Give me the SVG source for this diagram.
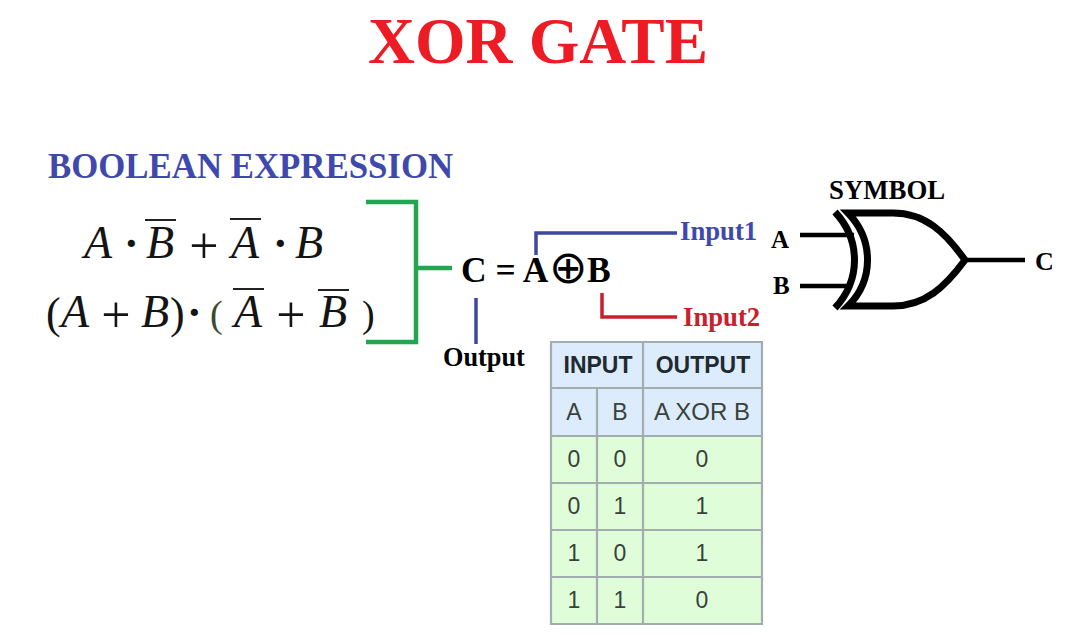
<svg xmlns="http://www.w3.org/2000/svg" width="1071" height="634" viewBox="0 0 1071 634">
<style>
.s{font-family:"Liberation Serif","Times New Roman",serif;font-weight:700}
.m{font-family:"Liberation Serif","Times New Roman",serif;font-style:italic;font-size:46px;fill:#141414}
.r{font-family:"Liberation Serif","Times New Roman",serif;font-size:44px;fill:#141414}
.d{font-family:"Liberation Serif","Times New Roman",serif;font-weight:700;font-size:44px;fill:#141414}
.p{font-family:"Liberation Serif","Times New Roman",serif;font-size:52px;fill:#141414;text-anchor:middle}
.o{stroke:#222;stroke-width:2;fill:none}
.t{font-family:"Liberation Sans",Arial,sans-serif;font-size:23px;fill:#38423a;text-anchor:middle}
.h{font-weight:700;fill:#1f2a30}
.g{stroke:#000;fill:none;stroke-width:7}
.w{stroke:#000;fill:none;stroke-width:4.5}
.l{fill:none;stroke-width:3.5}
.c{stroke:#a3adb0;stroke-width:2.2;fill:none}
</style>
<rect width="1071" height="634" fill="#fff"/>
<g id="title"><text class="s" x="368" y="63" font-size="65" fill="#ed1c24">XOR GATE</text></g>
<g id="boolean-heading"><text class="s" x="48" y="178" font-size="34.8" fill="#3f48ac">BOOLEAN EXPRESSION</text></g>
<g id="expression-1">
<text class="m" x="84" y="258">A</text>
<text class="d" x="124" y="258">·</text>
<text class="m" x="146" y="258">B</text><path class="o" d="M145 220H176"/>
<text class="p" x="204" y="263">+</text>
<text class="m" x="231" y="258">A</text><path class="o" d="M230 219H261"/>
<text class="d" x="273" y="258">·</text>
<text class="m" x="295" y="258">B</text>
</g>
<g id="expression-2">
<text class="r" x="46" y="328">(</text>
<text class="m" x="61" y="327">A</text>
<text class="p" x="116" y="332">+</text>
<text class="m" x="141" y="327">B</text>
<text class="r" x="170" y="328">)</text>
<text class="d" x="187" y="327">·</text>
<text class="r" x="210" y="327" style="fill:#3a4a30;font-size:38px">(</text>
<text class="m" x="234" y="327">A</text><path class="o" d="M233 289H264"/>
<text class="p" x="291" y="332">+</text>
<text class="m" x="319" y="327">B</text><path class="o" d="M318 290H349"/>
<text class="r" x="362" y="327" style="font-size:38px">)</text>
</g>
<g id="connectors">
<path d="M366 202H416V342H366M416 268H452" fill="none" stroke="#22a650" stroke-width="4.5"/>
<path class="l" stroke="#3f48a0" d="M536 255V233H677"/>
<path class="l" stroke="#c8202c" d="M602 293V317H677"/>
<path class="l" stroke="#3f48a0" d="M476 298V344"/>
</g>
<g id="equation">
<text class="s" x="461" y="282" font-size="35.5">C = A</text>
<text x="549" y="283" font-size="46" style="font-family:'DejaVu Sans',sans-serif">⊕</text>
<text class="s" x="587" y="282" font-size="35.5">B</text>
</g>
<g id="input1-label"><text class="s" x="680" y="240" font-size="26.7" fill="#3f48ac">Input1</text></g>
<g id="input2-label"><text class="s" x="683" y="326" font-size="26.7" fill="#c8202c">Input2</text></g>
<g id="output-label"><text class="s" x="443" y="366" font-size="26.3">Output</text></g>
<g id="symbol">
<text class="s" x="829" y="199" font-size="26.8">SYMBOL</text>
<text class="s" x="771" y="248" font-size="25">A</text>
<text class="s" x="773" y="294" font-size="25">B</text>
<text class="s" x="1035" y="270" font-size="26">C</text>
<path class="w" d="M800 235H854M800 286H850M965 260H1025"/>
<path class="g" d="M835 212C861 240 861 280 835 308"/>
<path class="g" d="M848 213C874 240 874 280 848 306H893C925 306 945 287 965 260C945 232 925 213 893 213H848Z"/>
</g>
<g id="truth-table">
<rect x="551" y="342" width="211" height="94" fill="#dcecfd"/>
<rect x="551" y="436" width="211" height="188" fill="#e0fdd9"/>
<path class="c" d="M551 342H762V624H551ZM551 388H762M551 436H762M551 483H762M551 530H762M551 577H762M643 342V624M597 388V624"/>
<text class="t h" x="598" y="373">INPUT</text>
<text class="t h" x="703" y="373">OUTPUT</text>
<text class="t" x="574" y="420">A</text>
<text class="t" x="620" y="420">B</text>
<text class="t" x="702" y="420" style="font-size:24px">A XOR B</text>
<text class="t" x="574" y="467">0</text><text class="t" x="620" y="467">0</text><text class="t" x="702" y="467">0</text>
<text class="t" x="574" y="514">0</text><text class="t" x="620" y="514">1</text><text class="t" x="702" y="514">1</text>
<text class="t" x="574" y="561">1</text><text class="t" x="620" y="561">0</text><text class="t" x="702" y="561">1</text>
<text class="t" x="574" y="608">1</text><text class="t" x="620" y="608">1</text><text class="t" x="702" y="608">0</text>
</g>
</svg>
